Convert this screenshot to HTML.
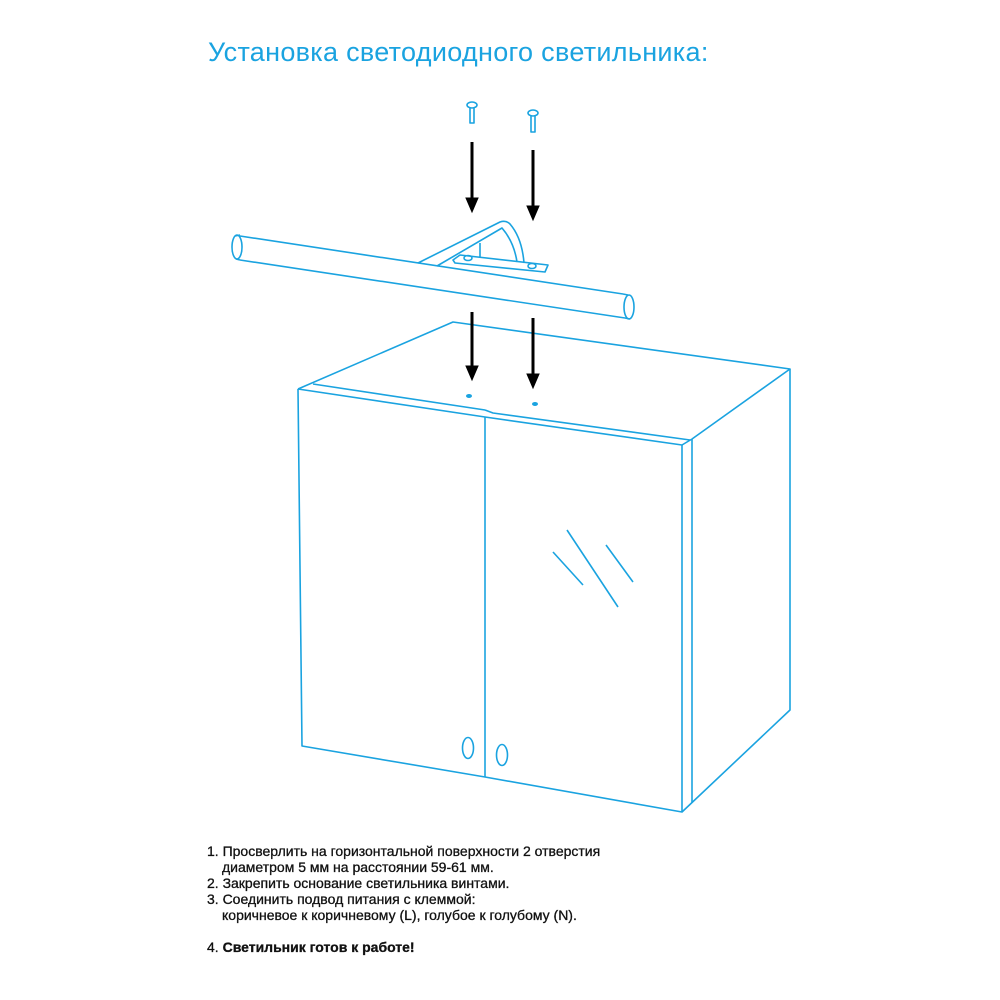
<!DOCTYPE html>
<html><head><meta charset="utf-8"><style>
html,body{margin:0;padding:0;background:#fff;}
body{width:1000px;height:1000px;position:relative;overflow:hidden;}
svg{position:absolute;left:0;top:0;}
.t{position:absolute;font-family:"Liberation Sans",sans-serif;}
.title{left:208px;top:37px;font-size:27px;color:#1aa3e0;letter-spacing:0.3px;}
.txt{left:207px;top:843px;font-size:14px;color:#111;line-height:16px;letter-spacing:0;-webkit-text-stroke:0.3px #111;}
</style></head><body>
<div class="t title">Установка светодиодного светильника:</div>
<svg width="1000" height="1000" viewBox="0 0 1000 1000">
<g fill="none" stroke="#1aa3e0" stroke-width="1.6" stroke-linejoin="round">
<path d="M298,389 L453,322 L790,369 L692,439"/>
<path d="M313,384 L485,410 M485,410 L493,413 L690,440"/>
<path d="M298,389 L485,417 L682,445 L692,439"/>
<path d="M298,389 L302,746 L485,777 L682,812 L682,445"/>
<path d="M485,417 L485,777"/>
<path d="M692,439 L692,803"/>
<path d="M790,369 L790,710 L682,812"/>
<ellipse cx="468" cy="748" rx="5.5" ry="10.5"/>
<ellipse cx="502" cy="755" rx="5.5" ry="10.5"/>
<path d="M553,552 L583,585 M567,530 L618,607 M606,545 L633,582"/>
<path d="M240,236 L623,294 M240,260 L625,318"/>
<ellipse cx="237" cy="247" rx="5" ry="12"/>
<path d="M240,235 L235,236 M240,260 L236,259"/>
<ellipse cx="629" cy="307" rx="5" ry="12"/>
<path d="M623,294 L628,295 M625,318 L630,319"/>
<path d="M418,263 L500,222 Q506,220 510,224 Q522,238 524,263"/>
<path d="M437,266 L502,228 Q514,242 517,262"/>
<path d="M480,243 L480,257"/>
<path d="M453,260 L460,255 L548,265 L545,272 L455,263 Z"/>
<ellipse cx="468" cy="258" rx="4" ry="2.5"/>
<ellipse cx="532" cy="266" rx="4" ry="2.5"/>
<ellipse cx="472" cy="105" rx="5" ry="3"/>
<path d="M470,108 L470,123 L474,123 L474,108"/>
<ellipse cx="533" cy="113" rx="5" ry="3"/>
<path d="M531,116 L531,132 L535,132 L535,116"/>
</g>
<g fill="#1aa3e0"><ellipse cx="469" cy="396" rx="3" ry="2"/><ellipse cx="535" cy="404" rx="3" ry="2"/></g>
<g stroke="#000" stroke-width="3" fill="#000">
<path d="M472,142 L472,200 M533,150 L533,208 M472,312 L472,368 M533,318 L533,376"/>
<path d="M466,198 L478,198 L472,212 Z M527,206 L539,206 L533,220 Z M466,366 L478,366 L472,380 Z M527,374 L539,374 L533,388 Z" stroke-width="1"/>
</g>
</svg>
<div class="t txt">1. Просверлить на горизонтальной поверхности 2 отверстия<br>
<span style="padding-left:15px">диаметром 5 мм на расстоянии 59-61 мм.</span><br>
2. Закрепить основание светильника винтами.<br>
3. Соединить подвод питания с клеммой:<br>
<span style="padding-left:15px">коричневое к коричневому (L), голубое к голубому (N).</span><br>
<br>
4. <b>Светильник готов к работе!</b></div>
</body></html>
